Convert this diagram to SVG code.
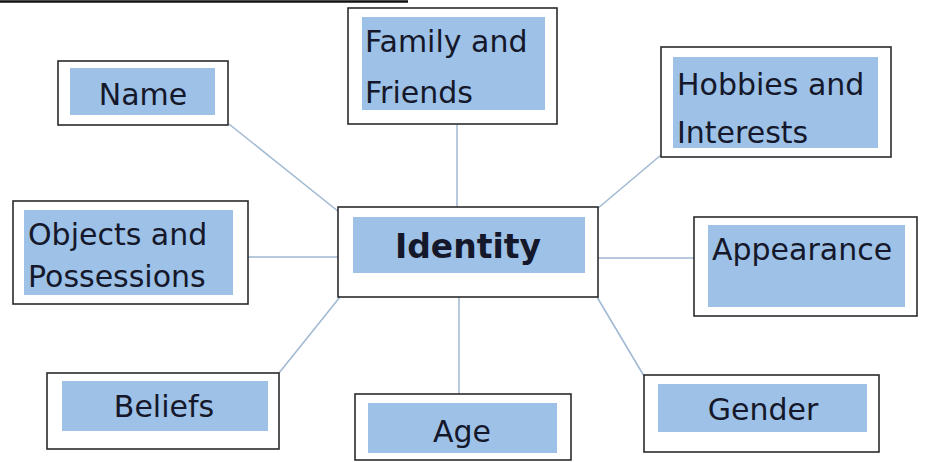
<svg xmlns="http://www.w3.org/2000/svg" width="931" height="462" viewBox="0 0 931 462">
<style>
.box{fill:#ffffff;stroke:#2b2b2b;stroke-width:1.6}
.fill{fill:#9dc1e7}
.t{font-family:"DejaVu Sans","Liberation Sans",sans-serif;font-size:30px;fill:#15182a}
.c{text-anchor:middle}
.b{font-weight:bold;font-size:33px}
.con line{stroke:#9fb8d2;stroke-width:1.5}
</style>
<rect width="931" height="462" fill="#ffffff"/>
<line x1="0" y1="1.5" x2="408" y2="1.5" stroke="#111" stroke-width="2.5"/>
<g class="con" id="connectors">
<line x1="229" y1="124" x2="339" y2="212"/>
<line x1="457" y1="125" x2="457" y2="207"/>
<line x1="661" y1="155" x2="597" y2="209"/>
<line x1="248" y1="257" x2="338" y2="257"/>
<line x1="598" y1="258" x2="694" y2="258"/>
<line x1="279" y1="373" x2="340" y2="297"/>
<line x1="459" y1="297" x2="459" y2="394"/>
<line x1="597" y1="297" x2="644" y2="376"/>
</g>
<g id="name">
<rect class="box" x="58" y="61" width="170" height="64"/>
<rect class="fill" x="70" y="68" width="145" height="47"/>
<text class="t c" x="143" y="105">Name</text>
</g>
<g id="family">
<rect class="box" x="348" y="8" width="209" height="116"/>
<rect class="fill" x="362" y="17" width="183" height="93"/>
<text class="t" x="365" y="52">Family and</text>
<text class="t" x="365" y="103">Friends</text>
</g>
<g id="hobbies">
<rect class="box" x="661" y="47" width="230" height="110"/>
<rect class="fill" x="673" y="57" width="205" height="91"/>
<text class="t" x="677" y="95">Hobbies and</text>
<text class="t" x="677" y="143">Interests</text>
</g>
<g id="identity">
<rect class="box" x="338" y="207" width="260" height="90"/>
<rect class="fill" x="353" y="217" width="232" height="56"/>
<text class="t c b" x="468" y="258">Identity</text>
</g>
<g id="objects">
<rect class="box" x="13" y="201" width="235" height="103"/>
<rect class="fill" x="24" y="210" width="209" height="85"/>
<text class="t" x="28" y="245">Objects and</text>
<text class="t" x="28" y="287">Possessions</text>
</g>
<g id="appearance">
<rect class="box" x="694" y="217" width="223" height="99"/>
<rect class="fill" x="708" y="225" width="197" height="82"/>
<text class="t" x="712" y="260">Appearance</text>
</g>
<g id="beliefs">
<rect class="box" x="47" y="373" width="232" height="76"/>
<rect class="fill" x="62" y="381" width="206" height="50"/>
<text class="t c" x="164" y="417">Beliefs</text>
</g>
<g id="age">
<rect class="box" x="355" y="394" width="216" height="66"/>
<rect class="fill" x="368" y="403" width="189" height="50"/>
<text class="t c" x="462" y="442">Age</text>
</g>
<g id="gender">
<rect class="box" x="644" y="375" width="235" height="77"/>
<rect class="fill" x="658" y="384" width="209" height="48"/>
<text class="t c" x="763" y="420">Gender</text>
</g>
</svg>
